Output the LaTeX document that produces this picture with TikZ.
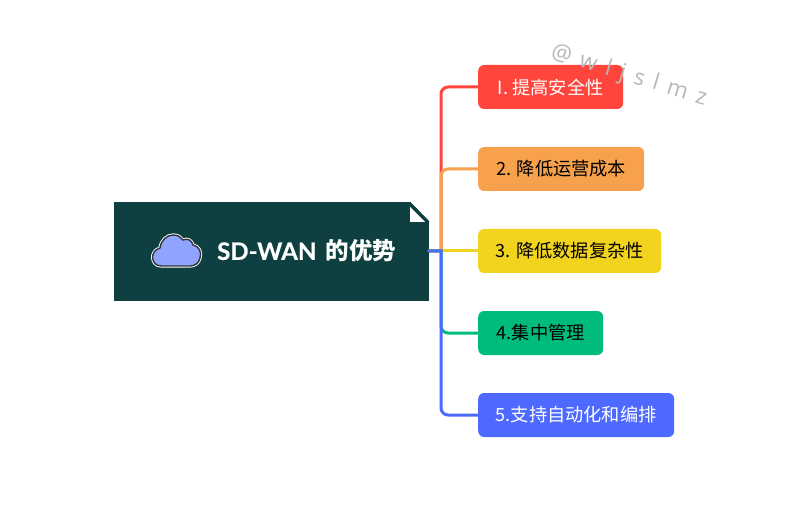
\documentclass[tikz,border=0pt]{standalone}
\usepackage{fontspec}
\setmainfont{Noto Sans CJK SC}
\newfontfamily\markfont[LetterSpace=15]{Open Sans}
\newfontfamily\rootfont[FakeBold=0.6]{Lato}
\definecolor{cRed}{HTML}{FF453C}
\definecolor{cOrange}{HTML}{F7A14D}
\definecolor{cYellow}{HTML}{F2D41F}
\definecolor{cGreen}{HTML}{00BC7B}
\definecolor{cBlue}{HTML}{4D69FF}
\definecolor{cRoot}{HTML}{0E4042}
\definecolor{cCloud}{HTML}{8FA3FF}
\tikzset{
  topic/.style={rounded corners=6pt,inner sep=0pt,minimum height=44pt,anchor=west,font=\fontsize{18.2}{20}\selectfont},
  conn/.style={line width=3pt,line cap=round},
}
\begin{document}
\begin{tikzpicture}[x=1pt,y=-1pt]
\useasboundingbox (0,0) rectangle (808,521);
\fill[white] (0,0) rectangle (808,521);
\node[topic,fill=cRed,text=white,minimum width=145pt] (n1) at (478,87) {I. 提高安全性};
\node[topic,fill=cOrange,text=black,minimum width=166pt] (n2) at (478,169) {2. 降低运营成本};
\node[topic,fill=cYellow,text=black,minimum width=183pt] (n3) at (478,251) {3. 降低数据复杂性};
\node[topic,fill=cGreen,text=black,minimum width=125pt] (n4) at (478,333) {4.集中管理};
\node[topic,fill=cBlue,text=white,minimum width=196pt] (n5) at (478,415) {5.支持自动化和编排};
\node[fill=cRoot,inner sep=0pt,minimum width=315pt,minimum height=99pt] (root) at (271.5,251.5) {};
\coordinate (trunk) at (441,251);
\coordinate (rootout) at (429,251);
\draw[conn,cRed] (rootout) -- (trunk) [rounded corners=7pt] |- (n1.west);
\draw[conn,cOrange] (rootout) -- (trunk) [rounded corners=7pt] |- (n2.west);
\draw[conn,cYellow] (rootout) -- (n3.west);
\draw[conn,cGreen] (rootout) -- (trunk) [rounded corners=7pt] |- (n4.west);
\draw[conn,cBlue] (rootout) -- (trunk) [rounded corners=7pt] |- (n5.west);
% folded corner
\fill[white] (409.5,201) -- (430,201) -- (430,222) -- cycle;
\fill[white] (410,207) -- (425,222) -- (410,222) -- cycle;
\draw[cRoot,line width=1pt] (409.5,202) -- (429,222);
% cloud
\def\cloudpath{(161,266) .. controls (151,266) and (149,251) .. (160,248)
  .. controls (161,240) and (167,235) .. (173,235)
  .. controls (178,235) and (181,237) .. (183,240)
  .. controls (187,238) and (192,240) .. (193,245)
  .. controls (199,246) and (202,252) .. (200,258)
  .. controls (199,263) and (195,266) .. (190,266) -- cycle}
\draw[white,line width=3.2pt,line join=round] \cloudpath;
\draw[black!80,fill=cCloud,line width=1.4pt,line join=round] \cloudpath;
\node[text=white,inner sep=0pt,anchor=west,font=\fontsize{23.5}{26}\selectfont\bfseries] (title) at (217,251) {{\rootfont\fontsize{24}{26}\selectfont\bfseries SD-WAN}\hspace{9.5pt}的优势};
\node[text=black!28,rotate=-17,inner sep=0pt,font=\markfont\fontsize{22.5}{24}\selectfont] (mark) at (629,76) {@ w l j s l m z};
\end{tikzpicture}
\end{document}
